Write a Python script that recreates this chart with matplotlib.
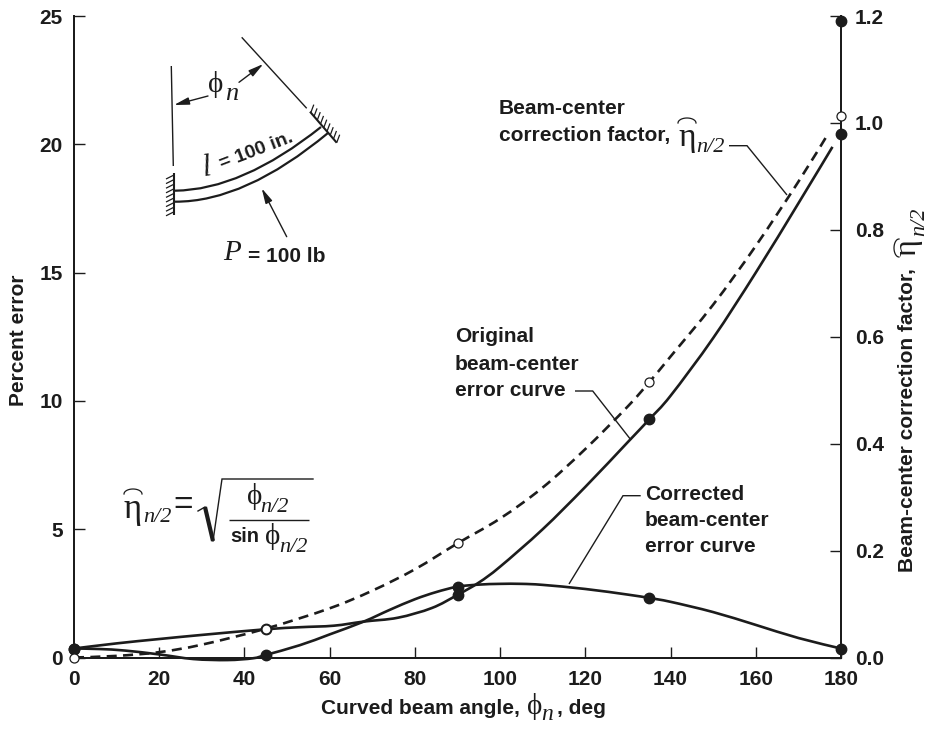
import numpy as np
import matplotlib
matplotlib.use('Agg')
import matplotlib.pyplot as plt
from matplotlib.path import Path
from matplotlib.patches import PathPatch

# values
angle_ticks = [0, 20, 40, 60, 80, 100, 120, 140, 160, 180]
error_ticks = [0, 5, 10, 15, 20, 25]
factor_ticks = [0.0, 0.2, 0.4, 0.6, 0.8, 1.0, 1.2]
factor_labels = ['0.0', '0.2', '0.4', '0.6', '0.8', '1.0', '1.2']

factor_x = [0, 10, 20, 30, 45, 60, 70, 80, 90, 100, 110, 120, 130, 135, 140, 150, 160, 170, 177]
factor_y = [0.0, 0.003, 0.01, 0.024, 0.054, 0.092, 0.125, 0.165, 0.2135, 0.26, 0.318, 0.39, 0.47,
            0.515, 0.563, 0.66, 0.77, 0.89, 0.98]
factor_pts_x = [0, 45, 90, 135, 180]
factor_pts_y = [0.0, 0.054, 0.2135, 0.515, 1.013]

orig_x = [0, 10, 20, 30, 45, 53, 61, 68, 76, 84, 90, 95, 100, 110, 120, 130, 135, 140, 150, 160, 170, 178]
orig_y = [0.35, 0.55, 0.72, 0.88, 1.1, 1.18, 1.24, 1.4, 1.55, 1.93, 2.44, 2.92, 3.54, 5.0, 6.65, 8.4,
          9.28, 10.2, 12.45, 15.0, 17.7, 19.9]
orig_pts_x = [0, 45, 90, 135, 180]
orig_pts_y = [0.35, 1.1, 2.44, 9.28, 20.4]

corr_x = [0, 6, 12, 20, 28, 36, 42, 45, 53, 60, 68, 74, 80, 85, 90, 95, 100, 105, 110, 120, 130, 135, 140,
          150, 160, 170, 180]
corr_y = [0.35, 0.33, 0.27, 0.12, -0.06, -0.1, -0.03, 0.1, 0.48, 0.9, 1.4, 1.85, 2.27, 2.55, 2.76, 2.84,
          2.87, 2.87, 2.83, 2.67, 2.45, 2.32, 2.17, 1.77, 1.27, 0.76, 0.35]
corr_pts_x = [0, 45, 90, 135, 180]
corr_pts_y = [0.35, 0.1, 2.76, 2.32, 0.35]

extra_x = [180]
extra_y = [24.8]

ink = '#1c1c1c'
sans = 'Liberation Sans'
serif = ['Liberation Serif', 'DejaVu Serif']
phi = '\u03d5'


def smooth(ax, xs, ys, **kw):
    # curve through the read points, no new data
    p = np.column_stack([xs, ys]).astype(float)
    q = np.vstack([p[0], p, p[-1]])
    verts = [p[0]]
    codes = [Path.MOVETO]
    for i in range(1, len(q)-2):
        verts += [q[i] + (q[i+1]-q[i-1])/6, q[i+1] - (q[i+2]-q[i])/6, q[i+1]]
        codes += [Path.CURVE4]*3
    ax.add_patch(PathPatch(Path(verts, codes), fill=False, ec=ink, clip_on=False, capstyle='butt', **kw))


fig = plt.figure(figsize=(9.28, 7.3), dpi=100)
ax = fig.add_axes([74/928, 1-657.5/730, (841-74)/928, (657.5-16)/730])
ax2 = ax.twinx()

ax.set_xlim(0, 180)
ax.set_ylim(0, 25)
ax2.set_ylim(0, 1.2)

smooth(ax, orig_x, orig_y, lw=1.9)
smooth(ax, corr_x, corr_y, lw=1.9)
ax.plot(orig_pts_x, orig_pts_y, 'o', color=ink, ms=7.5, clip_on=False, zorder=5)
ax.plot(corr_pts_x, corr_pts_y, 'o', color=ink, ms=7.5, clip_on=False, zorder=5)
ax.plot(extra_x, extra_y, 'o', color=ink, ms=7.5, clip_on=False, zorder=5)

smooth(ax2, factor_x, factor_y, lw=1.9, linestyle=(0, (3.8, 2.4)))
ax2.plot(factor_pts_x, factor_pts_y, 'o', mfc='white', mec=ink, mew=0.9, ms=6.5, clip_on=False, zorder=6)

ax.set_xticks(angle_ticks)
ax.set_yticks(error_ticks)
ax2.set_yticks(factor_ticks)
ax2.set_yticklabels(factor_labels)
for a in (ax, ax2):
    a.tick_params(direction='in', length=8, width=1, color=ink, labelsize=15, labelcolor=ink)
    for lab in a.get_xticklabels() + a.get_yticklabels():
        lab.set_fontfamily(sans)
        lab.set_fontweight('bold')
    a.spines['top'].set_visible(False)
    for s in ('left', 'right', 'bottom'):
        a.spines[s].set_linewidth(1.4)
        a.spines[s].set_color(ink)
ax.tick_params(axis='x', pad=9)
ax.tick_params(axis='y', pad=8)
ax2.tick_params(axis='y', pad=10)

# overlay in pixel coordinates for the sketch, labels and leaders
ov = fig.add_axes([0, 0, 1, 1])
ov.set_xlim(0, 928)
ov.set_ylim(730, 0)
ov.axis('off')
ov.patch.set_alpha(0)


def bold(x, y, s, size=15, **kw):
    kw.setdefault('va', 'center')
    ov.text(x, y, s, family=sans, fontweight='bold', fontsize=size, color=ink, **kw)


def sym(x, y, s, size=19, **kw):
    kw.setdefault('ha', 'center')
    kw.setdefault('va', 'center')
    ov.text(x, y, s, family=serif, fontsize=size, color=ink, **kw)


def sub(x, y, s='n/2', size=16, **kw):
    kw.setdefault('ha', 'center')
    kw.setdefault('va', 'center')
    ov.text(x, y, s, family=serif, style='italic', fontsize=size, color=ink, **kw)


def seg(xs, ys, lw=1.0):
    ov.plot(xs, ys, color=ink, lw=lw, solid_capstyle='butt', solid_joinstyle='miter')


def arrow(x0, y0, x1, y1):
    ov.annotate('', xy=(x1, y1), xytext=(x0, y0),
                arrowprops=dict(arrowstyle='-|>,head_length=0.9,head_width=0.22', color=ink, lw=1.0,
                                shrinkA=0, shrinkB=0))


def hat(x, y, w=9, h=5, lw=0.9):
    t = np.linspace(0, np.pi, 20)
    ov.plot(x + w*np.cos(t), y - h*np.sin(t), color=ink, lw=lw)


# beam sketch
for p0, c, p1 in [((175, 190.7), (242, 190), (321, 127)), ((175, 201.7), (245, 202), (328, 133))]:
    ov.add_patch(PathPatch(Path([p0, c, p1], [Path.MOVETO, Path.CURVE3, Path.CURVE3]),
                           fill=False, ec=ink, lw=1.6))
seg([174, 174], [173, 215], 1.5)
for y in np.arange(175, 216, 4.6):
    seg([174, 166], [y, y+4], 0.9)
seg([310, 336.7], [111.7, 142.7], 1.5)
for t in np.linspace(0.03, 1.0, 9):
    x = 310 + t*26.7
    y = 111.7 + t*31
    seg([x, x+3], [y, y-8], 0.9)
seg([171.3, 173.3], [66, 166])
seg([241.7, 306.7], [37.3, 108.3])
arrow(208, 96, 174, 105)
arrow(239, 82.3, 263.3, 64)
arrow(286.7, 236.7, 261.7, 188.3)
sym(216, 85, phi, 21)
sub(232, 94, 'n', 19)
sub(207, 168, 'l', 22, rotation=8)
bold(256, 151, '= 100 in.', 14, ha='center', rotation=21, rotation_mode='anchor')
sub(232, 253, 'P', 21)
bold(248, 256, '= 100 lb', 15)

# equation
sym(133, 509, '\u03b7', 25)
hat(133, 494)
sub(157, 517)
ov.text(183, 505, '=', family=sans, fontsize=24, color=ink, ha='center', va='center')
ov.plot([198, 205], [511, 507], color=ink, lw=1.0)
ov.plot([205, 213], [507, 541], color=ink, lw=3.0, solid_capstyle='butt')
ov.plot([213, 222, 313], [541, 479, 479], color=ink, lw=1.0, solid_joinstyle='miter')
seg([229, 309], [520, 520])
sym(255, 496, phi, 21)
sub(274, 507)
bold(230, 536, 'sin', 14.5)
sym(273, 537, phi, 21)
sub(293, 547)

# curve labels
bold(499, 109, 'Beam-center')
bold(499, 136, 'correction factor,')
sym(687, 138, '\u03b7', 24)
hat(687, 123)
sub(710, 147)
seg([729, 747, 787], [145.7, 145.7, 195])

bold(455, 337, 'Original')
bold(455, 364, 'beam-center')
bold(455, 390, 'error curve')
seg([575, 592.7, 631], [391, 391, 440])

bold(645, 495, 'Corrected')
bold(645, 521, 'beam-center')
bold(645, 547, 'error curve')
seg([640.7, 623, 569], [495.7, 495.7, 584])

# axis labels
bold(19, 340, 'Percent error', ha='center', rotation=90)
bold(321, 708, 'Curved beam angle,')
sym(535, 707, phi, 21)
sub(547, 714, 'n', 17)
bold(557, 708, ', deg')
bold(908, 572, 'Beam-center correction factor,', ha='center', va='bottom', rotation=90)
sym(908, 248, '\u03b7', 23, rotation=90)
t = np.linspace(-np.pi/2, np.pi/2, 20)
ov.plot(899 - 5*np.cos(t), 248 + 9*np.sin(t), color=ink, lw=0.9)
sub(920, 222, rotation=90)

fig.savefig('out.png', dpi=100)
